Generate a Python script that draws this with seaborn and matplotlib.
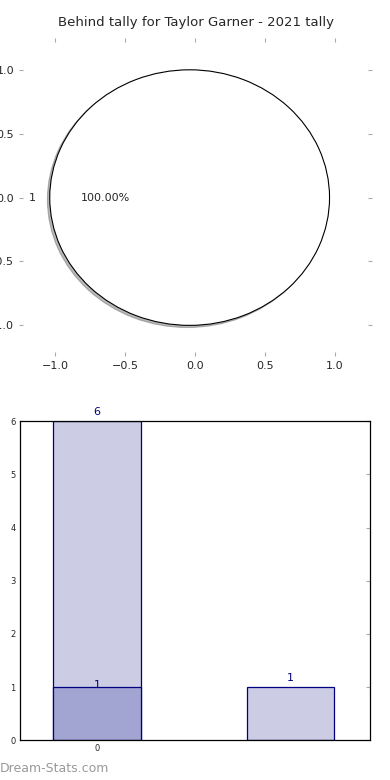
import seaborn as sns
import numpy as np
import pandas as pd
import matplotlib
matplotlib.use("Agg")
import matplotlib.pyplot as plt

# Data #

pie_values = [1]
pie_labels = ["1"]
title = "Behind tally for Taylor Garner - 2021 tally"

bar_positions = ["0", "1"]
total_values = [6, 1]
behind_values = [1, 0]

LIGHT = "#cccce4"
DARK = "#a2a4d2"
EDGE = "#000080"


# Main #

sns.set_style("white")
plt.rcParams["font.family"] = ["DejaVu Sans"]

fig = plt.figure(figsize=(3.9, 7.8), dpi=100)

# pie
ax_pie = fig.add_axes([0.054, 0.546, 0.895, 0.403])
ax_pie.pie(pie_values, labels=pie_labels, autopct="%.2f%%", explode=[0.04],
	shadow={"ox": -0.012, "oy": -0.012, "shade": 0.55}, startangle=0, frame=True,
	wedgeprops={"facecolor": "white", "edgecolor": "black", "linewidth": 0.8},
	textprops={"fontsize": 8})
ax_pie.set_aspect("auto")
ax_pie.set_xlim(-1.245, 1.25)
ax_pie.set_ylim(-1.225, 1.235)
ax_pie.set_xticks([-1.0, -0.5, 0.0, 0.5, 1.0])
ax_pie.set_yticks([-1.0, -0.5, 0.0, 0.5, 1.0])
for s in ax_pie.spines.values():
	s.set_visible(False)
ax_pie.tick_params(axis="both", labelsize=8, length=3, color="#aaaaaa",
	top=True, right=True, direction="inout", bottom=True, left=True)
ax_pie.set_title(title, fontsize=9.5, pad=10)

# bars
ax_bar = fig.add_axes([0.051, 0.051, 0.897, 0.409])
df = pd.DataFrame({"pos": bar_positions, "total": total_values, "behind": behind_values})
sns.barplot(data=df, x="pos", y="total", color=LIGHT, saturation=1, width=0.45,
	edgecolor=EDGE, linewidth=0.9, ax=ax_bar)
sns.barplot(data=df[df["behind"] > 0], x="pos", y="behind", color=DARK, saturation=1,
	width=0.45, edgecolor=EDGE, linewidth=0.9, ax=ax_bar, order=bar_positions)

for i, v in enumerate(total_values):
	ax_bar.text(i, v + 0.08, str(v), ha="center", va="bottom", color=EDGE, fontsize=8)
for i, v in enumerate(behind_values):
	if v > 0:
		ax_bar.text(i, v - 0.05, str(v), ha="center", va="bottom", color=EDGE, fontsize=8)

ax_bar.set_xlim(-0.397, 1.407)
ax_bar.set_ylim(0, 6)
ax_bar.set_xticks([0])
ax_bar.set_xticklabels(["0"])
ax_bar.set_yticks(range(0, 7))
ax_bar.set_xlabel("")
ax_bar.set_ylabel("")
for s in ax_bar.spines.values():
	s.set_visible(True)
	s.set_color("black")
	s.set_linewidth(0.9)
ax_bar.tick_params(axis="both", labelsize=6, length=3, color="#aaaaaa",
	top=True, right=True, direction="in", pad=3)

fig.text(0.0, 0.0065, "Dream-Stats.com", fontsize=9, color="#999999",
	ha="left", va="bottom")

fig.savefig("out.png", dpi=100)
